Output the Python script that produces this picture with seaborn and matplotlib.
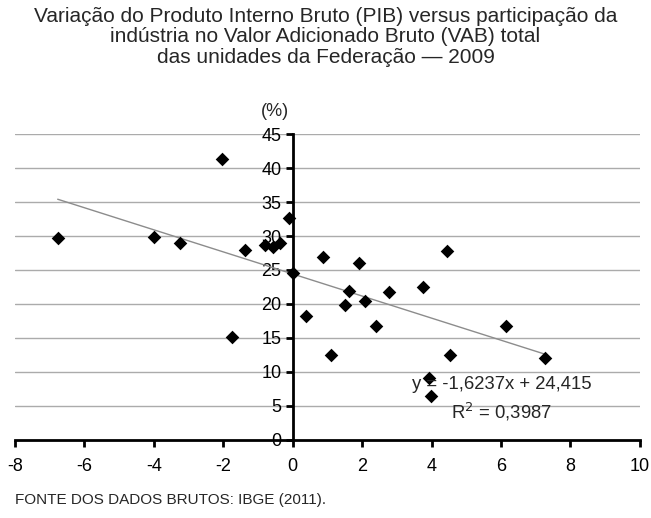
import numpy as np
import pandas as pd
import matplotlib
matplotlib.use('Agg')
import matplotlib.pyplot as plt
import seaborn as sns

# variação do PIB (%) e participação da indústria no VAB (%) - 27 UFs
variacao_pib = [-6.77, -4.0, -3.26, -2.05, -1.76, -1.38, -0.81, -0.58, -0.37, -0.1, 0.0,
                0.37, 0.87, 1.11, 1.50, 1.61, 1.90, 2.07, 2.41, 2.78, 3.76, 3.93, 3.97,
                4.43, 4.52, 6.14, 7.28]
part_industria = [29.7, 29.9, 29.0, 41.3, 15.1, 27.9, 28.7, 28.4, 28.9, 32.7, 24.5,
                  18.3, 26.9, 12.5, 19.8, 21.9, 26.1, 20.4, 16.7, 21.7, 22.5, 9.1, 6.4,
                  27.8, 12.5, 16.8, 12.1]

# linha de tendência que aparece no gráfico
inclinacao = -1.6237
intercepto = 24.415
r2 = 0.3987

ticks_x = [-8, -6, -4, -2, 0, 2, 4, 6, 8, 10]
ticks_y = [0, 5, 10, 15, 20, 25, 30, 35, 40, 45]

titulo = ('Variação do Produto Interno Bruto (PIB) versus participação da\n'
          'indústria no Valor Adicionado Bruto (VAB) total\n'
          'das unidades da Federação — 2009')
fonte = 'FONTE DOS DADOS BRUTOS: IBGE (2011).'

tabela = pd.DataFrame({'pib': variacao_pib, 'industria': part_industria})

sns.set_style('white')
plt.rcParams['font.family'] = ['Liberation Sans', 'DejaVu Sans']
plt.rcParams['axes.unicode_minus'] = False

fig = plt.figure(figsize=(6.51, 5.18), dpi=100)
ax = fig.add_axes([0.023, 0.1506, 0.960, 0.5907])

# grade horizontal cinza
for v in ticks_y[1:]:
    ax.axhline(v, color='#ababab', lw=1, zorder=0)

sns.scatterplot(data=tabela, x='pib', y='industria', marker='D', s=48,
                color='black', edgecolor='black', linewidth=0, ax=ax, zorder=3)

# tendência de x mínimo até x máximo
xs = np.array([tabela['pib'].min(), tabela['pib'].max()])
ax.plot(xs, inclinacao * xs + intercepto, color='#8c8c8c', lw=1, zorder=2)

ax.set_xlim(-8, 10)
ax.set_ylim(0, 45)
ax.set_xticks(ticks_x)
ax.set_yticks(ticks_y)
ax.set_xlabel('')
ax.set_ylabel('')

ax.spines['left'].set_position(('data', 0))
ax.spines['bottom'].set_position(('data', 0))
ax.spines['right'].set_visible(False)
ax.spines['top'].set_visible(False)
for lado in ['left', 'bottom']:
    ax.spines[lado].set_linewidth(2)
    ax.spines[lado].set_color('black')
ax.tick_params(axis='both', direction='out', length=5, width=2, labelsize=13,
               colors='black', pad=3)
ax.tick_params(axis='x', bottom=True, pad=8)
ax.tick_params(axis='y', left=True)

ax.text(-0.5, 48.3, '(%)', ha='center', va='center', fontsize=13)

eq = 'y = {}x + {}'.format(str(inclinacao).replace('.', ','), str(intercepto).replace('.', ','))
ax.text(6.02, 8.1, eq, ha='center', va='center', fontsize=13.3, zorder=4)
ax.text(6.02, 4.1, 'R$^2$ = ' + str(r2).replace('.', ','), ha='center', va='center',
        fontsize=13.3, zorder=4)

fig.text(0.5, 1 - 37 / 518, titulo, ha='center', va='center', fontsize=15,
         linespacing=1.1)
fig.text(15 / 651, 1 - 500 / 518, fonte, ha='left', va='center', fontsize=11)

fig.savefig('out.png', dpi=100)
